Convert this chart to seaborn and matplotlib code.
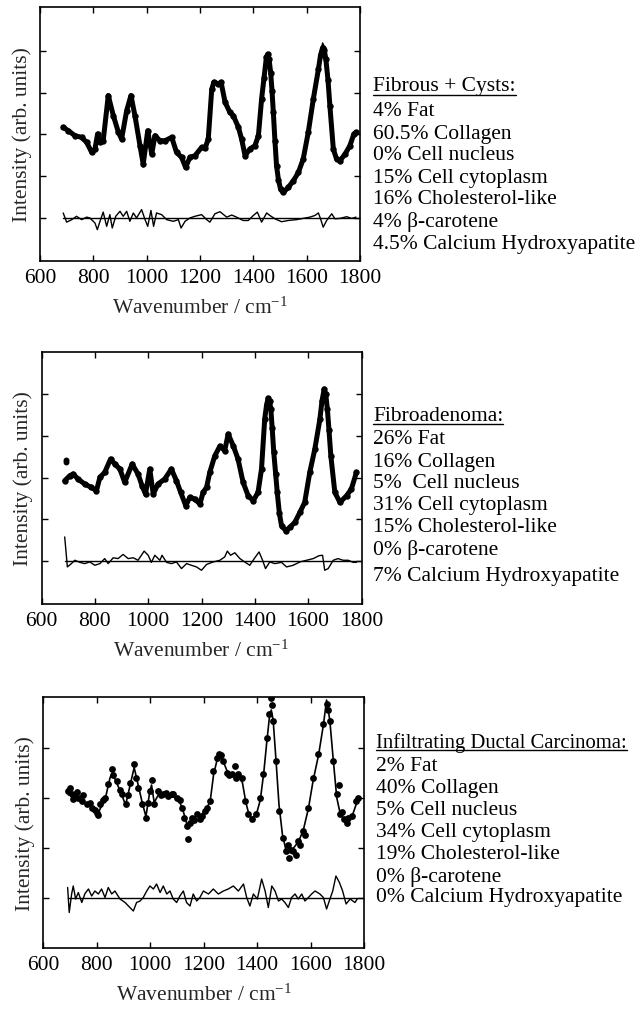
import matplotlib
matplotlib.use("Agg")
import matplotlib.pyplot as plt
from matplotlib.lines import Line2D
import seaborn as sns

# ---- panel 1: Fibrous + Cysts ----
wn1 = [687, 706, 731, 756, 775, 794, 806, 816, 825, 837, 856, 875, 894, 906, 925, 941, 956, 975, 987, 1004,
       1019, 1031, 1050, 1069, 1094, 1112, 1131, 1146, 1162, 1181, 1206, 1219, 1231, 1244, 1252, 1269, 1279, 1294, 1312, 1325,
       1344, 1356, 1369, 1387, 1406, 1419, 1431, 1440, 1449, 1454, 1459, 1465, 1470, 1475, 1481, 1487, 1494, 1502, 1512, 1531,
       1550, 1569, 1587, 1606, 1625, 1644, 1652, 1660, 1666, 1672, 1680, 1687, 1700, 1712, 1725, 1744, 1762, 1777, 1785]
data1 = [2.17, 2.09, 1.97, 1.93, 1.81, 1.57, 1.65, 2.01, 1.81, 1.85, 2.93, 2.45, 2.05, 1.89, 2.57, 2.93, 2.45, 1.73, 1.29, 2.09,
         1.53, 1.97, 1.85, 1.85, 1.93, 1.57, 1.45, 1.21, 1.45, 1.49, 1.69, 1.67, 1.89, 3.08, 3.25, 3.21, 3.25, 2.77, 2.53, 2.45,
         2.17, 1.89, 1.49, 1.65, 1.73, 1.97, 2.85, 3.35, 3.85, 3.92, 3.80, 3.48, 3.05, 2.53, 1.85, 1.25, 0.92, 0.69, 0.61, 0.73,
         0.89, 1.09, 1.41, 2.05, 2.85, 3.56, 3.90, 4.08, 4.02, 3.80, 3.30, 2.69, 1.65, 1.41, 1.37, 1.53, 1.73, 2.01, 2.05]
fit1 = [2.15, 2.08, 1.98, 1.92, 1.80, 1.58, 1.66, 2.05, 1.80, 1.86, 2.90, 2.44, 2.04, 1.86, 2.58, 2.90, 2.44, 1.70, 1.22, 2.10,
        1.50, 1.98, 1.84, 1.86, 1.92, 1.55, 1.42, 1.17, 1.44, 1.50, 1.68, 1.66, 1.90, 3.05, 3.20, 3.18, 3.20, 2.78, 2.52, 2.44,
        2.16, 1.88, 1.45, 1.64, 1.74, 1.98, 2.86, 3.38, 3.88, 3.95, 3.82, 3.48, 3.04, 2.52, 1.84, 1.24, 0.90, 0.67, 0.60, 0.72,
        0.88, 1.08, 1.42, 2.06, 2.86, 3.60, 3.98, 4.19, 4.10, 3.85, 3.32, 2.68, 1.64, 1.40, 1.36, 1.52, 1.72, 2.00, 2.05]
rwn1 = [687, 700, 719, 737, 756, 775, 787, 806, 815, 825, 837, 850, 862, 871, 884, 900, 912, 925, 937, 950,
        962, 981, 994, 1004, 1016, 1026, 1037, 1056, 1075, 1100, 1119, 1129, 1144, 1162, 1181, 1206, 1225, 1237, 1256, 1275,
        1300, 1319, 1337, 1362, 1381, 1400, 1415, 1431, 1450, 1462, 1481, 1506, 1531, 1562, 1587, 1612, 1631, 1644, 1652, 1662,
        1675, 1694, 1706, 1725, 1750, 1769, 1785]
res1 = [0.12, -0.10, -0.04, 0.04, -0.04, 0.02, 0.00, -0.12, -0.28, -0.08, 0.14, -0.20, 0.08, -0.24, 0.04, 0.16, 0.04, 0.16, -0.08, 0.12,
        0.00, 0.20, -0.04, -0.20, 0.18, -0.20, 0.12, 0.08, -0.04, -0.08, -0.04, -0.24, -0.08, 0.00, 0.04, 0.08, -0.04, -0.10, 0.10, 0.15,
        0.02, 0.07, 0.02, -0.06, -0.06, 0.06, 0.14, -0.10, 0.12, 0.06, -0.02, -0.09, -0.06, -0.04, -0.01, 0.02, 0.06, 0.12, -0.02, -0.22,
        -0.06, 0.10, -0.02, -0.01, 0.03, -0.01, 0.02]

# ---- panel 2: Fibroadenoma ----
wn2 = [687, 706, 719, 737, 762, 787, 806, 819, 837, 859, 875, 894, 912, 940, 962, 977, 990, 1006, 1019, 1037,
       1062, 1087, 1106, 1122, 1141, 1156, 1175, 1194, 1206, 1219, 1231, 1250, 1269, 1287, 1300, 1319, 1337, 1356, 1375, 1394,
       1412, 1425, 1437, 1444, 1450, 1455, 1460, 1465, 1471, 1478, 1484, 1492, 1500, 1516, 1531, 1550, 1569, 1587, 1606, 1625,
       1644, 1652, 1660, 1666, 1672, 1678, 1685, 1700, 1719, 1744, 1762, 1781]
data2 = [1.93, 2.05, 2.09, 1.97, 1.85, 1.77, 1.69, 2.01, 2.13, 2.45, 2.33, 2.21, 1.89, 2.33, 2.09, 1.81, 1.61, 2.21, 1.61, 1.85,
         1.97, 2.21, 1.93, 1.65, 1.33, 1.53, 1.49, 1.37, 1.65, 1.77, 2.13, 2.53, 2.76, 2.65, 3.05, 2.77, 2.45, 1.89, 1.57, 1.45,
         1.65, 2.21, 3.41, 3.75, 3.91, 3.85, 3.65, 3.20, 2.61, 2.10, 1.65, 1.15, 0.85, 0.73, 0.81, 0.93, 1.17, 1.41, 2.13, 2.69,
         3.41, 3.85, 4.13, 4.00, 3.65, 3.15, 2.53, 1.65, 1.41, 1.57, 1.73, 2.13]
fit2 = [1.95, 2.04, 2.06, 1.96, 1.84, 1.76, 1.70, 1.98, 2.10, 2.40, 2.32, 2.18, 1.86, 2.30, 2.06, 1.78, 1.55, 2.18, 1.58, 1.84,
        1.96, 2.18, 1.90, 1.62, 1.26, 1.48, 1.44, 1.34, 1.60, 1.76, 2.10, 2.50, 2.74, 2.66, 2.95, 2.74, 2.42, 1.88, 1.56, 1.44,
        1.64, 2.20, 3.40, 3.76, 3.92, 3.86, 3.64, 3.18, 2.60, 2.08, 1.64, 1.14, 0.82, 0.70, 0.76, 0.90, 1.16, 1.40, 2.12, 2.68,
        3.42, 3.86, 4.15, 4.02, 3.66, 3.14, 2.52, 1.64, 1.40, 1.56, 1.72, 2.12]
stray_wn2 = [690, 691]
stray_y2 = [2.43, 2.37]
rwn2 = [687, 697, 712, 725, 744, 762, 781, 800, 819, 837, 850, 869, 887, 906, 925, 944, 962, 985, 1000, 1012,
        1025, 1044, 1052, 1069, 1087, 1106, 1125, 1144, 1162, 1181, 1200, 1219, 1244, 1269, 1287, 1297, 1309, 1325, 1344, 1362,
        1381, 1400, 1416, 1429, 1440, 1456, 1475, 1500, 1519, 1544, 1569, 1594, 1619, 1641, 1654, 1662, 1675, 1694, 1712, 1731,
        1750, 1769, 1781]
res2 = [0.58, -0.14, -0.06, 0.02, -0.03, -0.06, -0.02, -0.10, -0.06, 0.06, -0.06, 0.08, 0.06, 0.16, 0.06, 0.08, 0.02, 0.24, 0.14, -0.03,
        0.14, 0.02, 0.14, -0.03, -0.06, -0.02, -0.18, -0.06, -0.10, -0.14, -0.22, -0.08, -0.02, 0.02, 0.10, 0.24, 0.14, 0.20, 0.06, -0.02,
        -0.10, 0.08, 0.22, 0.02, -0.18, -0.02, -0.06, -0.03, -0.14, -0.10, -0.02, 0.02, 0.06, 0.13, 0.14, -0.22, -0.18, 0.02, 0.06, 0.02,
        0.02, -0.03, -0.03]

# ---- panel 3: Infiltrating Ductal Carcinoma ----
wn3 = [694, 700, 706, 712, 719, 725, 731, 744, 750, 762, 775, 781, 793, 800, 806, 812, 825, 831, 843, 856,
       862, 874, 887, 893, 908, 918, 924, 939, 948, 956, 971, 984, 993, 999, 1005, 1015, 1030, 1040, 1049, 1060,
       1068, 1080, 1086, 1099, 1110, 1118, 1128, 1136, 1143, 1150, 1155, 1165, 1174, 1186, 1193, 1205, 1211, 1224, 1236, 1249,
       1259, 1266, 1274, 1286, 1295, 1305, 1317, 1322, 1330, 1342, 1355, 1367, 1380, 1396, 1411, 1423, 1436, 1446, 1451, 1455,
       1461, 1471, 1483, 1496, 1508, 1515, 1521, 1527, 1536, 1545, 1554, 1560, 1573, 1580, 1592, 1610, 1629, 1648, 1660, 1666,
       1673, 1685, 1698, 1705, 1710, 1718, 1725, 1735, 1742, 1754, 1770, 1779]
data3 = [2.13, 2.20, 2.07, 1.98, 2.03, 2.12, 2.00, 1.93, 2.05, 1.87, 1.90, 1.80, 1.75, 1.70, 1.65, 1.87, 1.95, 2.00, 2.27, 2.57,
         2.45, 2.33, 2.15, 2.07, 1.87, 2.05, 2.30, 2.67, 2.40, 2.20, 1.87, 1.60, 1.90, 2.13, 2.35, 1.87, 2.13, 2.05, 2.07, 2.10,
         2.03, 2.08, 2.07, 2.00, 1.95, 1.80, 1.60, 1.43, 1.17, 1.50, 1.60, 1.55, 1.67, 1.58, 1.63, 1.73, 1.80, 1.93, 2.53, 2.80,
         2.88, 2.85, 2.73, 2.50, 2.45, 2.47, 2.63, 2.40, 2.47, 2.40, 1.93, 1.67, 1.57, 1.67, 2.00, 2.47, 3.20, 3.67, 4.00, 3.85,
         3.53, 2.73, 1.73, 1.20, 0.93, 1.05, 0.80, 0.95, 0.93, 0.85, 1.13, 1.05, 1.33, 1.25, 1.80, 2.40, 2.87, 3.47, 3.87, 3.75,
         3.53, 2.73, 2.07, 2.25, 1.67, 1.72, 1.57, 1.50, 1.60, 1.63, 1.93, 2.00]
fwn3 = [694, 712, 731, 750, 770, 790, 806, 820, 835, 850, 858, 870, 890, 908, 925, 940, 955, 970, 984, 998,
        1005, 1015, 1030, 1050, 1070, 1090, 1110, 1125, 1138, 1150, 1170, 1190, 1210, 1225, 1237, 1250, 1260, 1275, 1290, 1310,
        1330, 1345, 1358, 1370, 1382, 1398, 1412, 1425, 1437, 1447, 1453, 1460, 1470, 1482, 1495, 1508, 1520, 1535, 1555, 1573,
        1592, 1610, 1630, 1648, 1660, 1672, 1685, 1698, 1712, 1728, 1740, 1755, 1770, 1782]
fit3 = [2.05, 2.05, 1.98, 1.92, 1.85, 1.78, 1.70, 1.85, 2.05, 2.40, 2.48, 2.35, 2.10, 1.85, 2.25, 2.60, 2.25, 1.90, 1.62, 2.10,
        2.25, 1.90, 2.05, 2.05, 2.00, 2.02, 1.92, 1.70, 1.45, 1.50, 1.62, 1.65, 1.75, 1.95, 2.45, 2.75, 2.82, 2.70, 2.50, 2.45,
        2.42, 2.30, 1.90, 1.65, 1.58, 1.68, 1.95, 2.50, 3.15, 3.65, 3.75, 3.55, 2.80, 1.85, 1.25, 0.95, 0.90, 0.98, 1.12, 1.35,
        1.78, 2.35, 2.85, 3.45, 3.95, 3.55, 2.75, 2.00, 1.65, 1.55, 1.52, 1.62, 1.85, 2.00]
rwn3 = [691, 697, 706, 712, 721, 731, 744, 756, 769, 781, 793, 806, 818, 831, 843, 856, 868, 887, 906, 924,
        937, 949, 962, 974, 987, 999, 1012, 1024, 1037, 1049, 1062, 1074, 1086, 1099, 1111, 1124, 1136, 1149, 1161, 1174,
        1186, 1199, 1218, 1236, 1255, 1274, 1292, 1311, 1330, 1349, 1361, 1373, 1386, 1401, 1417, 1430, 1442, 1455, 1467, 1480,
        1492, 1504, 1517, 1529, 1542, 1554, 1567, 1579, 1592, 1604, 1617, 1635, 1648, 1660, 1670, 1683, 1695, 1708, 1720, 1733,
        1748, 1766, 1775]
res3 = [0.20, -0.30, 0.07, 0.23, -0.03, 0.10, -0.10, 0.08, 0.17, 0.03, 0.13, 0.07, 0.17, 0.00, 0.20, 0.07, 0.13, -0.03, -0.10, -0.20,
        -0.27, -0.10, -0.07, 0.00, 0.13, 0.23, 0.17, 0.27, 0.10, 0.23, 0.07, 0.13, -0.03, -0.10, 0.03, 0.13, -0.10, -0.17, 0.07, -0.07,
        0.00, 0.13, 0.07, 0.17, 0.07, 0.13, 0.17, 0.23, 0.13, 0.27, 0.00, -0.17, 0.07, -0.03, 0.37, 0.13, -0.20, 0.23, 0.13, -0.07,
        -0.03, -0.10, -0.20, 0.00, 0.07, -0.03, 0.07, -0.07, 0.00, 0.07, 0.13, 0.07, 0.00, -0.23, -0.07, 0.13, 0.43, 0.30, 0.13, -0.13,
        -0.03, -0.10, -0.03]

titles = ["Fibrous + Cysts:", "Fibroadenoma:", "Infiltrating Ductal Carcinoma:"]
comp1 = ["4% Fat", "60.5% Collagen", "0% Cell nucleus", "15% Cell cytoplasm",
         "16% Cholesterol-like", "4% β-carotene", "4.5% Calcium Hydroxyapatite"]
comp2 = ["26% Fat", "16% Collagen", "5%  Cell nucleus", "31% Cell cytoplasm",
         "15% Cholesterol-like", "0% β-carotene", "7% Calcium Hydroxyapatite"]
comp3 = ["2% Fat", "40% Collagen", "5% Cell nucleus", "34% Cell cytoplasm",
         "19% Cholesterol-like", "0% β-carotene", "0% Calcium Hydroxyapatite"]
x_ticks = [600, 800, 1000, 1200, 1400, 1600, 1800]

sns.set_style("ticks")
plt.rcParams["font.family"] = ["Liberation Serif", "DejaVu Serif"]
plt.rcParams["mathtext.fontset"] = "custom"
plt.rcParams["mathtext.rm"] = "Liberation Serif"
plt.rcParams["mathtext.it"] = "Liberation Serif:italic"
plt.rcParams["axes.linewidth"] = 1.2

FS = 15.5
W, H = 635, 1012
fig = plt.figure(figsize=(W / 100, H / 100), dpi=100)


def px_rect(l, t, r, b):
    return [l / W, 1 - b / H, (r - l) / W, (b - t) / H]


rects = [px_rect(40, 8, 360, 262), px_rect(41.5, 353, 361.5, 605), px_rect(43.3, 698, 364, 949)]
ylims = [(-1.03, 5.05), (-1.03, 5.02), (-1.01, 4.01)]
yticks = [[0, 1, 2, 3, 4], [0, 1, 2, 3, 4], [0, 1, 2, 3]]

panels = [
    (wn1, data1, wn1, fit1, rwn1, res1),
    (wn2, data2, wn2, fit2, rwn2, res2),
    (wn3, data3, fwn3, fit3, rwn3, res3),
]

for i, (wn, dat, fwn, fit, rwn, res) in enumerate(panels):
    ax = fig.add_axes(rects[i])
    if i < 2:
        sns.lineplot(x=wn, y=dat, ax=ax, color="k", lw=3.6, marker="o", markersize=4.6,
                     markeredgewidth=0, sort=False)
        sns.lineplot(x=fwn, y=fit, ax=ax, color="k", lw=1.0, sort=False)
    else:
        sns.lineplot(x=fwn, y=fit, ax=ax, color="k", lw=1.2, sort=False)
        sns.scatterplot(x=wn, y=dat, ax=ax, color="k", s=24, linewidth=0)
    if i == 1:
        sns.scatterplot(x=stray_wn2, y=stray_y2, ax=ax, color="k", s=18, linewidth=0)
    sns.lineplot(x=rwn, y=res, ax=ax, color="k", lw=1.0, sort=False)
    ax.plot([rwn[0], 1800], [0, 0], color="k", lw=1.0)

    ax.set_xlim(600, 1800)
    ax.set_ylim(*ylims[i])
    ax.set_xticks(x_ticks)
    ax.set_xticklabels([str(t) for t in x_ticks])
    ax.set_yticks(yticks[i])
    ax.set_yticklabels([])
    ax.tick_params(direction="in", top=True, right=True, length=4, width=1.0,
                   labelsize=FS, pad=5, colors="k")
    ax.set_xlabel("Wavenumber / cm$^{-1}$", fontsize=FS, labelpad=7)
    ax.set_ylabel("Intensity (arb. units)", fontsize=FS, labelpad=1)
    for s in ax.spines.values():
        s.set_visible(True)
        s.set_color("k")

# composition annotations
text_x = [373, 373, 376]
title_y = [87, 416.7, 742.7]
title_fs = [FS, FS, 14.9]
line_y = [
    [111.7, 134, 156, 178, 200, 222.3, 244.3],
    [440, 462, 483.3, 505.7, 527.7, 550, 576.7],
    [766.7, 788.7, 810.7, 832.7, 855, 876.7, 898],
]
comps = [comp1, comp2, comp3]
title_artists = []
for i in range(3):
    t = fig.text(text_x[i] / W, 1 - title_y[i] / H, titles[i], fontsize=title_fs[i],
                 va="center", ha="left", color="k")
    title_artists.append(t)
    for txt, y in zip(comps[i], line_y[i]):
        fig.text(text_x[i] / W, 1 - y / H, txt, fontsize=FS, va="center", ha="left", color="k")

# underline titles
fig.canvas.draw()
renderer = fig.canvas.get_renderer()
for i, t in enumerate(title_artists):
    bb = t.get_window_extent(renderer)
    x0 = bb.x0 / W
    x1 = min(bb.x1, W) / W
    y = 1 - (title_y[i] + 8.5) / H
    fig.add_artist(Line2D([x0, x1], [y, y], transform=fig.transFigure, color="k", lw=1.0))

fig.savefig("out.png", dpi=100)
